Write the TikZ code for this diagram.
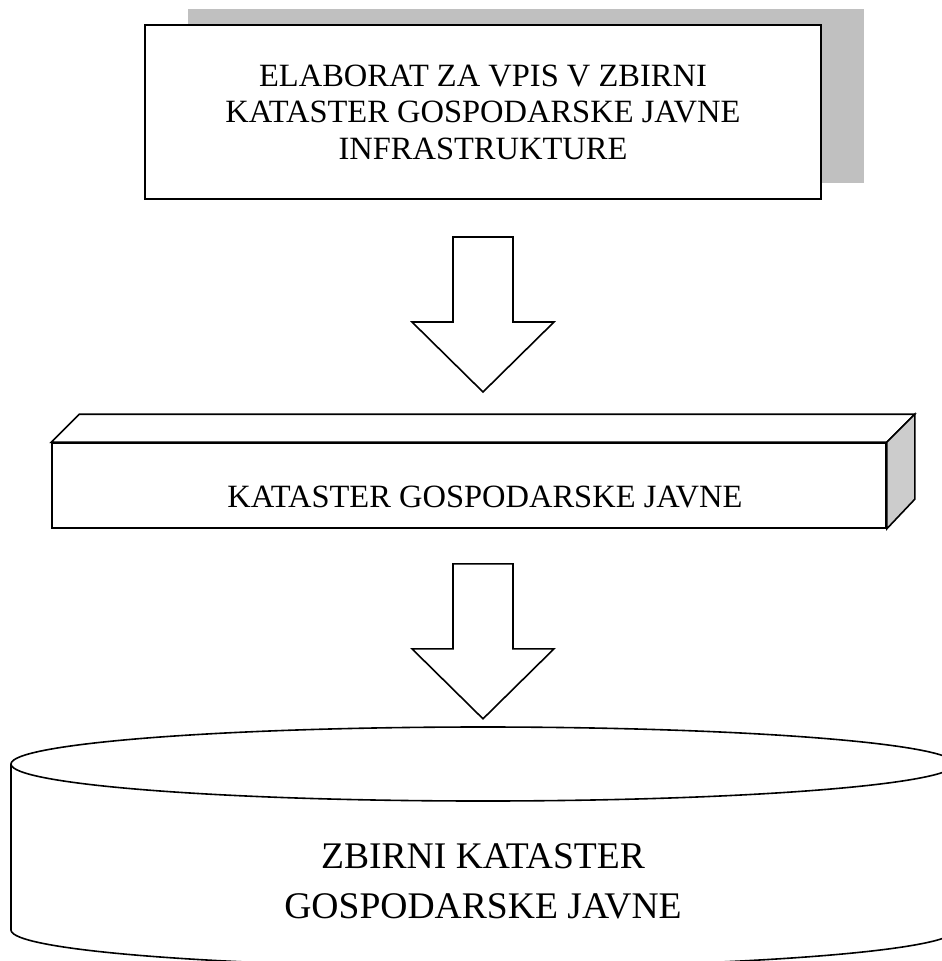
\documentclass[tikz,border=0pt]{standalone}
\usepackage{fontspec}
\setmainfont{Liberation Serif}
\usetikzlibrary{calc,shadows}
\definecolor{shadowgray}{HTML}{C0C0C0}
\definecolor{sidegray}{HTML}{CCCCCC}
\begin{document}
\begin{tikzpicture}[x=1pt,y=-1pt,
  frame/.style={draw=black, line width=2pt, fill=white},
  solid3d/.style={draw=black, line width=1.6pt, line join=miter, fill=white},
  arrowline/.style={draw=black, line width=1.6pt, line join=miter, fill=white},
  boxtext/.style={font=\fontsize{32.5}{36.5}\selectfont, align=center, inner sep=0pt},
  cyltext/.style={font=\fontsize{37.6}{50}\selectfont, align=center, inner sep=0pt},
  downarrow/.pic={
    \draw[arrowline] (-30,0) -- (30,0) -- (30,85) -- (71,85) -- (0,155)
      -- (-71,85) -- (-30,85) -- cycle;
  }]
\useasboundingbox (0,0) rectangle (942,961);

% top box with a flat grey drop shadow
\node[frame, minimum width=676pt, minimum height=174pt, inner sep=0pt,
      drop shadow={shadow xshift=43pt, shadow yshift=16pt, fill=shadowgray, opacity=1},
      boxtext] (elab) at (483,112)
  {ELABORAT ZA VPIS V ZBIRNI\\KATASTER GOSPODARSKE JAVNE\\INFRASTRUKTURE};

% first block arrow
\coordinate (a1) at ($(elab.south)+(0,37)$);
\pic at (a1) {downarrow};

% long 3-D bar
\node[solid3d, minimum width=834pt, minimum height=85pt, inner sep=0pt] (kat) at (469,485.5) {};
\draw[solid3d] (kat.north west) -- ++(28,-28) -- ($(kat.north east)+(28,-28)$)
  -- (kat.north east) -- cycle;
\draw[solid3d, fill=sidegray] (kat.north east) -- ++(28,-28) -- ++(0,85)
  -- (kat.south east) -- cycle;
\node[boxtext] (katlbl) at ($(elab.south |- kat.center)+(2,11.5)$) {KATASTER GOSPODARSKE JAVNE};

% second block arrow
\coordinate (a2) at ($(elab.south |- kat.south)+(0,35)$);
\pic at (a2) {downarrow};

% cylinder
\coordinate (cyltop) at (483,764);
\coordinate (cylbot) at (483,930);
\fill[white] (11,764) -- (11,930)
  arc[start angle=180, end angle=360, x radius=472pt, y radius=37pt]
  -- (955,764) -- cycle;
\draw[line width=1.6pt] (11,764) -- (11,930)
  arc[start angle=180, end angle=360, x radius=472pt, y radius=37pt]
  -- (955,764);
\draw[line width=1.6pt, fill=white] (cyltop) ellipse[x radius=472pt, y radius=37pt];
\node[cyltext] (zbirni) at (483,881) {ZBIRNI KATASTER\\GOSPODARSKE JAVNE};
\end{tikzpicture}
\end{document}
